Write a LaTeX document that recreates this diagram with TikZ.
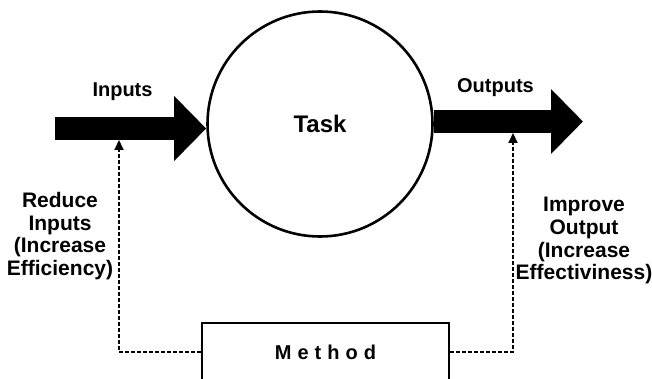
\documentclass[tikz,border=0pt]{standalone}
\usepackage{fontspec}
\setmainfont{Liberation Sans}
\usetikzlibrary{arrows.meta,calc}
\tikzset{>=latex}

\begin{document}
\begin{tikzpicture}[x=0.5pt,y=-0.5pt,
		font=\bfseries\fontsize{10}{11}\selectfont,
		bigarrow/.style = {line width=11.5pt,
			-{Triangle[length=16pt,width=31.5pt]}
		},
		feedback/.style = {line width=1pt, dash pattern=on 2pt off 1pt,
			-{Triangle[length=5pt,width=4.5pt]}
		},
		sidetext/.style = {align=center, inner sep=0pt,
			font=\bfseries\fontsize{10.5}{11.3}\selectfont},]
		\useasboundingbox (0,0) rectangle (652,379);
		\coordinate (inS) at (55,128.5);
		\coordinate (outE) at (583,121.5);
		\coordinate (effin) at (119,140);
		\coordinate (effout) at (513,133);
		\node[circle, draw, line width=1.3pt, minimum size=112.5pt, inner sep=0pt,
			font=\bfseries\fontsize{12}{14}\selectfont] (task) at (320,124) {Task};
		\draw[bigarrow] (inS) -- (task.west |- inS);
		\draw[bigarrow] (task.east |- outE) -- (outE);
		\node[anchor=base] (inlab) at (122.5,97) {Inputs};
		\node[anchor=base] (outlab) at (495.5,93) {Outputs};
		\node[draw, line width=0.8pt, minimum width=123.5pt, minimum height=29pt,
			font=\bfseries\addfontfeature{LetterSpace=30}] (method) at (325.5,352) {Method};
		\draw[feedback] (method.west) -| (effin);
		\draw[feedback] (method.east) -| (effout);
		\node[sidetext] (effic) at (60,236) {Reduce\\Inputs\\(Increase\\Efficiency)};
		\node[sidetext] (effect) at (584,240.7) {Improve\\Output\\(Increase\\Effectiviness)};
	\end{tikzpicture}
\end{document}
